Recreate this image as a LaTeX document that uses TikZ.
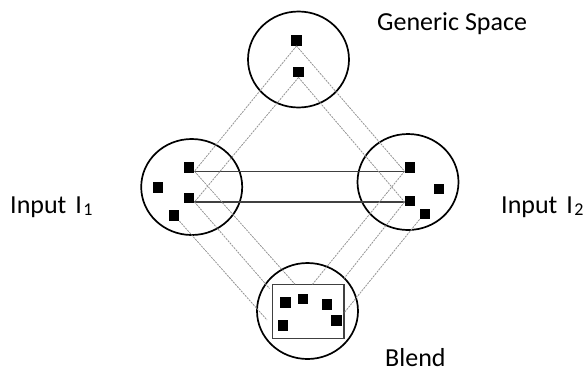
\documentclass[tikz,border=0pt]{standalone}
\usepackage{fontspec}
\setmainfont{Carlito}
\usetikzlibrary{shapes.geometric}
\newcommand{\insub}[1]{\hspace{1.5pt}{\fontsize{18}{18}\selectfont\raisebox{-2.5pt}{#1}}}
\begin{document}
\begin{tikzpicture}[x=1pt,y=-1pt,
  space/.style={draw=black, line width=1.7pt, ellipse, minimum width=101pt, minimum height=96pt, inner sep=0pt},
  dot/.style={fill=black, draw=none, rectangle, minimum size=10.5pt, inner sep=0pt},
  map/.style={draw=gray!85, line width=0.8pt, dash pattern=on 2pt off 1pt},
  link/.style={draw=black!75, line width=1.2pt},
  frm/.style={draw=black!75, line width=1.3pt, rectangle, minimum width=71.7pt, minimum height=54pt, inner sep=0pt},
  lbl/.style={font=\fontsize{26}{30}\selectfont, anchor=base west, inner sep=0pt}]
\useasboundingbox (0,0) rectangle (586,376);
% spaces
\node[space] (gen) at (298.5,59.5) {};
\node[space] (in1) at (191.7,187) {};
\node[space] (in2) at (408,182) {};
\node[space] (bl) at (307.5,311) {};
\node[frm] (frame) at (308.2,311.3) {};
% dots
\node[dot] (g1) at (296.5,40.5) {};
\node[dot] (g2) at (298.5,72) {};
\node[dot] (l1) at (189,167.5) {};
\node[dot] (l2) at (158,187.5) {};
\node[dot] (l3) at (189,198) {};
\node[dot] (l4) at (174,215.7) {};
\node[dot] (r1) at (410,167.5) {};
\node[dot] (r2) at (439,189) {};
\node[dot] (r3) at (410,201) {};
\node[dot] (r4) at (425,214) {};
\node[dot] (b1) at (285.5,302.5) {};
\node[dot] (b2) at (303,299) {};
\node[dot] (b3) at (327,304.3) {};
\node[dot] (b4) at (336.3,320.3) {};
\node[dot] (b5) at (283,325.5) {};
% attach points
\coordinate (h1) at ([yshift=1.7pt]l1.south east);
\coordinate (h1r) at (h1 -| r1.west);
\coordinate (h2) at ([yshift=1.5pt]l3.south east);
\coordinate (h2r) at (h2 -| r3.west);
\coordinate (e1) at (295,284.3);
\coordinate (e2) at (269.5,288.5);
\coordinate (e3) at (267,320);
\coordinate (e4) at (312.5,284.3);
\coordinate (e5) at (344,278.5);
\coordinate (e6) at (344,313);
% connectors
\draw[link] (h1) -- (h1r);
\draw[link] (h2) -- (h2r);
\draw[map] (g1.south) -- (h1);
\draw[map] (g1.south) -- (h1r);
\draw[map] (g2.south) -- (h2);
\draw[map] (g2.south) -- (h2r);
\draw[map] (h1) -- (e1);
\draw[map] (h2) -- (e2);
\draw[map] (l4.south east) -- (e3);
\draw[map] (h1r) -- (e4);
\draw[map] (h2r) -- (e5);
\draw[map] (r4.south west) -- (e6);
% labels
\node[lbl] (tg) at (377,30) {Generic Space};
\node[lbl] (t1) at (10,213) {Input\hspace{3pt} I\insub{1}};
\node[lbl] (t2) at (501,213) {Input\hspace{3pt} I\insub{2}};
\node[lbl] (tb) at (385,366) {Blend};
\end{tikzpicture}
\end{document}
